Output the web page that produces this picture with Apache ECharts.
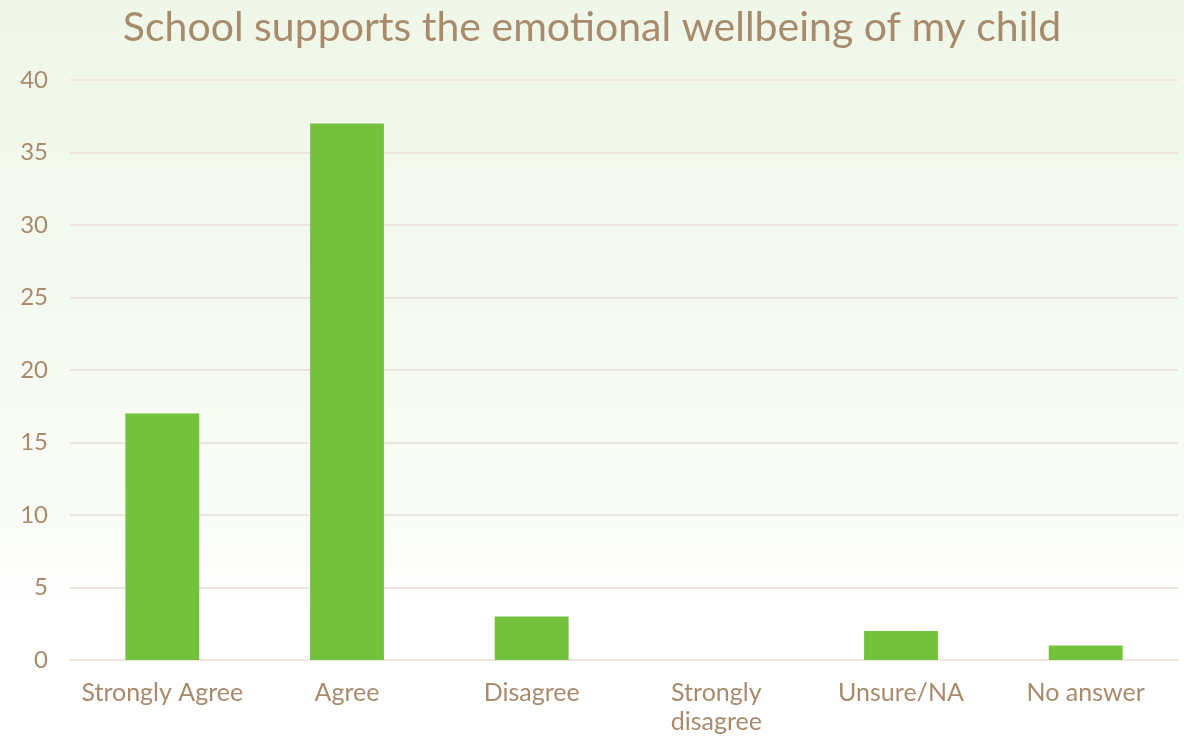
<!DOCTYPE html>
<html>
<head>
<meta charset="utf-8">
<script src="https://cdn.jsdelivr.net/npm/echarts@6/dist/echarts.min.js"></script>
<style>
  html, body { margin: 0; padding: 0; }
  #chart { width: 1184px; height: 736px; }
</style>
</head>
<body>
<div id="chart"></div>
<script>
const categories = ['Strongly Agree', 'Agree', 'Disagree', 'Strongly\ndisagree', 'Unsure/NA', 'No answer'];
const responses = [17, 37, 3, 0, 2, 1];
const yTicks = [0, 5, 10, 15, 20, 25, 30, 35, 40];

const textColor = '#a88b6c';
const fontFamily = 'Lato, "Open Sans", sans-serif';

const myChart = echarts.init(document.getElementById('chart'));
myChart.setOption({
  // pale green fading to white near the bottom
  backgroundColor: new echarts.graphic.LinearGradient(0, 0, 0, 1, [
    { offset: 0, color: '#eff7e8' },
    { offset: 0.7, color: '#f9fcf6' },
    { offset: 0.83, color: '#ffffff' },
    { offset: 1, color: '#ffffff' },
  ]),
  title: {
    text: 'School supports the emotional wellbeing of my child',
    left: 'center',
    top: 2,
    textStyle: {
      color: textColor,
      fontSize: 41,
      fontWeight: 'normal',
      fontFamily,
    },
  },
  grid: {
    left: 70,
    right: 6,
    top: 80,
    bottom: 73,
  },
  xAxis: {
    type: 'category',
    data: categories,
    axisLine: { show: true, lineStyle: { color: '#eee5df', width: 2 } },
    axisTick: { show: false },
    axisLabel: {
      color: textColor,
      fontSize: 25,
      fontFamily,
      margin: 18,
      lineHeight: 29,
      interval: 0,
    },
  },
  yAxis: {
    type: 'value',
    min: yTicks[0],
    max: yTicks[yTicks.length - 1],
    interval: 5,
    axisLine: { show: false },
    axisTick: { show: false },
    axisLabel: {
      color: textColor,
      fontSize: 24,
      fontFamily,
      margin: 22,
    },
    splitLine: {
      show: true,
      lineStyle: { type: 'solid', color: '#eee5df', width: 2 },
    },
  },
  series: [{
    type: 'bar',
    data: responses,
    barWidth: '40%',
    itemStyle: { color: '#74c23c' },
  }],
});
</script>
</body>
</html>
